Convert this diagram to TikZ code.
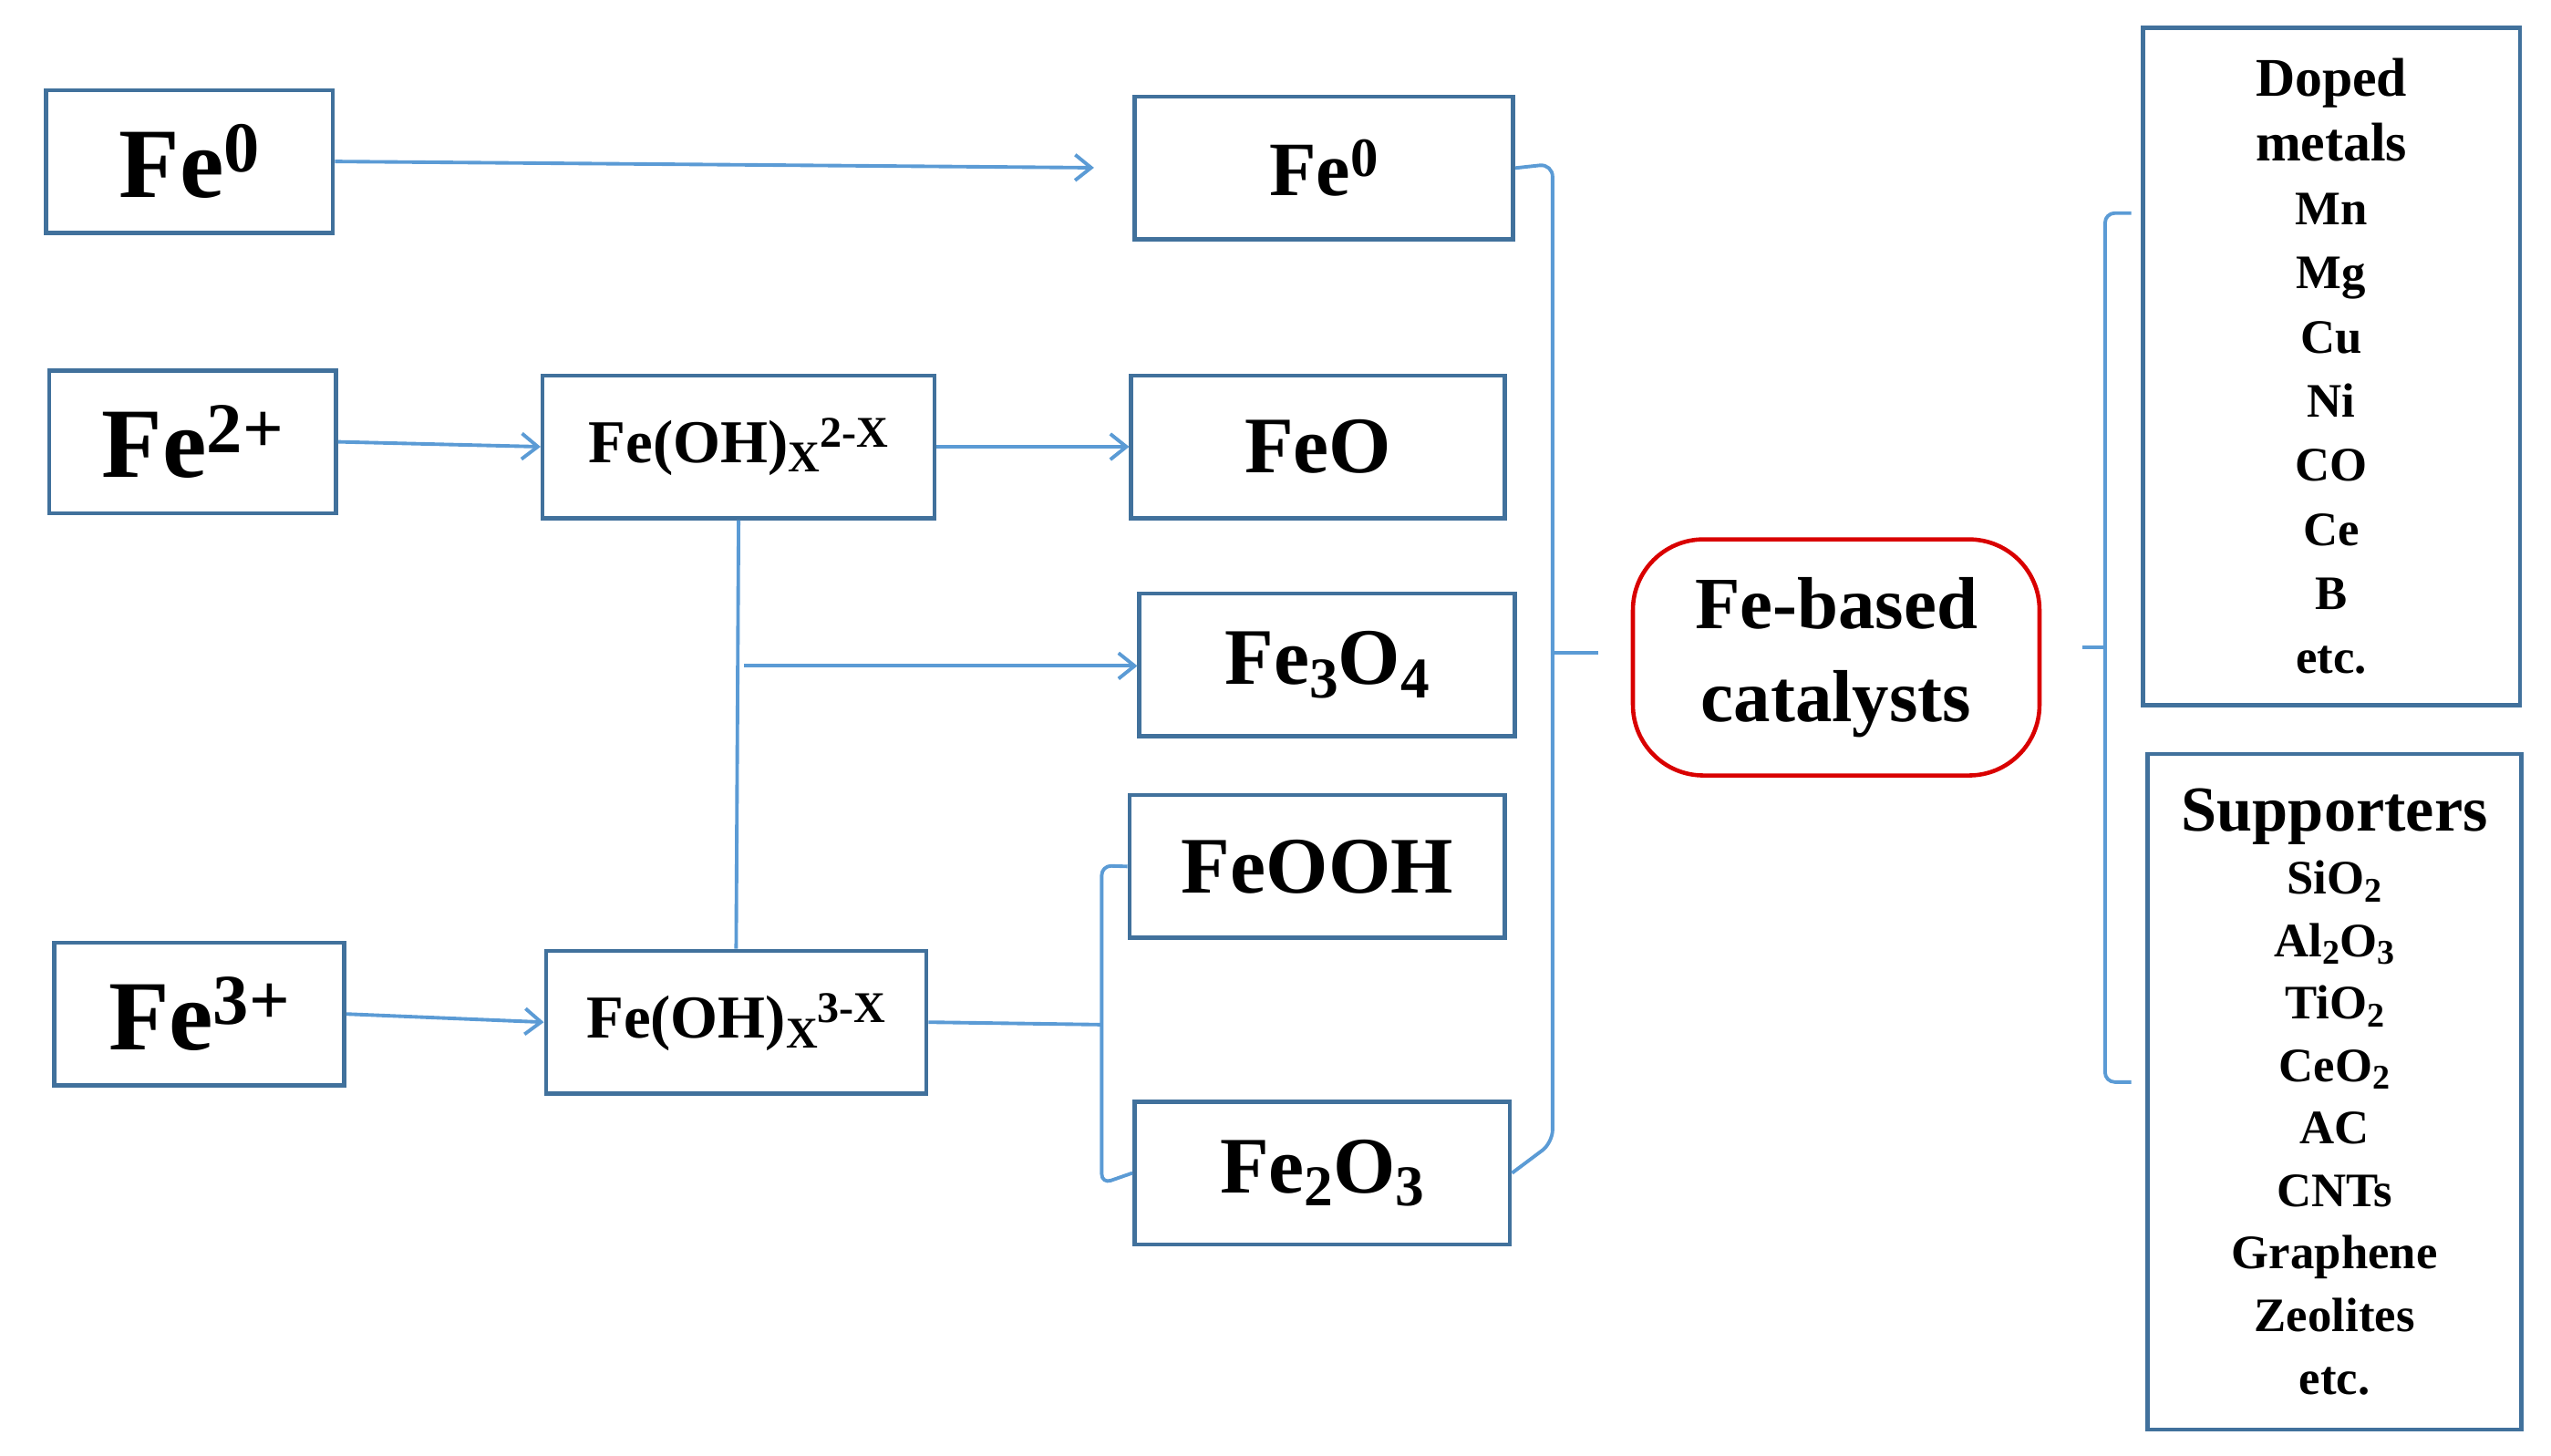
\documentclass[tikz,border=0pt]{standalone}
\usepackage{fontspec}
\setmainfont{Liberation Serif}
\usetikzlibrary{arrows.meta,calc}
\newcommand\sps[1]{\raisebox{0.55ex}{\scalebox{0.72}{#1}}}
\newcommand\sbs[1]{\raisebox{-0.35ex}{\scalebox{0.72}{#1}}}
\begin{document}
\begin{tikzpicture}[x=0.01798cm,y=-0.01798cm,
 box/.style={draw=boxc,line width=1.3pt,inner sep=0pt,font=\bfseries},
 ln/.style={draw=lnc,line width=1.1pt},
 ar/.style={ln,-{Straight Barb[length=5pt,width=8pt]}}]
\definecolor{boxc}{HTML}{41719C}
\definecolor{lnc}{HTML}{5B9BD5}
\useasboundingbox (0,0) rectangle (1556,888);
\newcommand\bx[7][]{\node[box,#1,minimum width={(#5-#3)*0.01798cm},minimum height={(#6-#4)*0.01798cm}] (#2) at ({(#3+#5)/2},{(#4+#6)/2}) {#7};}
\bx[font=\bfseries\fontsize{31}{34}\selectfont]{a0}{28}{55}{203}{142}{Fe\sps{0}}
\bx[font=\bfseries\fontsize{31}{34}\selectfont]{a2}{30}{226}{205}{313}{Fe\sps{2+}}
\bx[font=\bfseries\fontsize{31}{34}\selectfont]{a3}{33}{575}{210}{662}{Fe\sps{3+}}
\bx[font=\bfseries\fontsize{19}{22}\selectfont]{h2}{331}{229}{570}{316}{Fe(OH)\sbs{X}\sps{2-X}}
\bx[font=\bfseries\fontsize{19}{22}\selectfont]{h3}{333}{580}{565}{667}{Fe(OH)\sbs{X}\sps{3-X}}
\bx[font=\bfseries\fontsize{24}{26}\selectfont]{b0}{692}{59}{923}{146}{Fe\sps{0}}
\bx[font=\bfseries\fontsize{25}{28}\selectfont]{b1}{690}{229}{918}{316}{FeO}
\bx[font=\bfseries\fontsize{25}{28}\selectfont]{b2}{695}{362}{924}{449}{Fe\sbs{3}O\sbs{4}}
\bx[font=\bfseries\fontsize{25}{28}\selectfont]{b3}{689}{485}{918}{572}{FeOOH}
\bx[font=\bfseries\fontsize{25}{28}\selectfont]{b4}{692}{672}{921}{759}{Fe\sbs{2}O\sbs{3}}
\node[box,draw=red!85!black,rounded corners=22pt,align=center,font=\bfseries\fontsize{23}{29}\selectfont,minimum width={248*0.01798cm},minimum height={144*0.01798cm}] (fe) at (1120,401) {Fe-based\\catalysts};
\bx[align=center,font=\bfseries\fontsize{15}{20}\selectfont]{dm}{1307}{17}{1537}{430}{{\fontsize{17}{21}\selectfont Doped}\\{\fontsize{17}{21}\selectfont metals}\\Mn\\Mg\\Cu\\Ni\\CO\\Ce\\B\\etc.}
\bx[align=center,font=\bfseries\fontsize{15}{19.5}\selectfont]{sp}{1310}{460}{1538}{872}{{\fontsize{20}{22}\selectfont Supporters}\\SiO\sbs{2}\\Al\sbs{2}O\sbs{3}\\TiO\sbs{2}\\CeO\sbs{2}\\AC\\CNTs\\Graphene\\Zeolites\\etc.}
\draw[ar,shorten >=12pt] (a0.east) -- (b0.west);
\draw[ar] (a2.east) -- (h2.west);
\draw[ar] (h2.east) -- (b1.west);
\draw[ar] (a3.east) -- (h3.west);
\draw[ln] (h2.south) -- (h3.north);
\coordinate (m) at ($(h2.south)!0.34!(h3.north)$);
\draw[ar] ([xshift=2pt]m) -- (m -| b2.west);
\coordinate (lb) at (672,625);
\draw[ln] (h3.east) -- (lb);
\draw[ln,rounded corners=3pt] (b3.west) -- (672,528) -- (672,722) -- (b4.west);
\draw[ln,rounded corners=4pt] (b0.east) -- (947,100) -- (947,697) -- (b4.east);
\coordinate (rm) at (975,398);
\draw[ln] (947,398) -- (rm);
\coordinate (fm) at (1270,395);
\draw[ln,rounded corners=3pt] (1300,130) -- (1284,130) -- (1284,660) -- (1300,660);
\draw[ln] (1284,395) -- (fm);
\end{tikzpicture}
\end{document}
